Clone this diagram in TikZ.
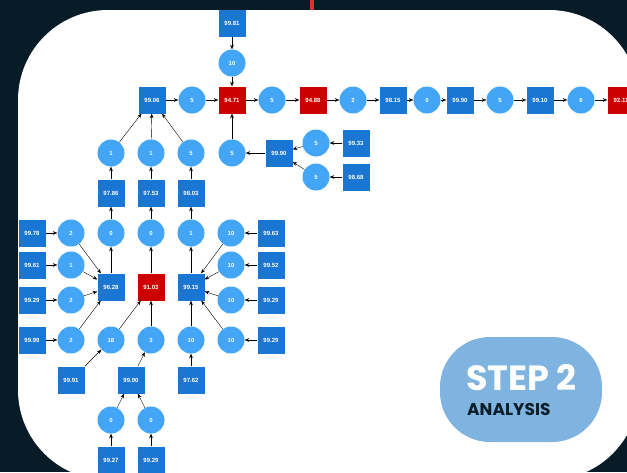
\documentclass[tikz,border=0pt]{standalone}
\usepackage{fontspec}
\usetikzlibrary{arrows.meta,positioning}
\newfontfamily\boxfont{Liberation Sans}
\newfontfamily\stepfont{Poppins}
\definecolor{bgdark}{HTML}{071C26}
\definecolor{sqblue}{HTML}{1976D2}
\definecolor{dotblue}{HTML}{42A5F5}
\definecolor{sqred}{HTML}{CC0000}
\definecolor{barred}{HTML}{D9342B}
\definecolor{pillblue}{HTML}{7FB3E0}
\definecolor{navy}{HTML}{0B1F2A}
\tikzset{
    -{Stealth[length=4.5pt,width=3.6pt]},line width=0.7pt,
    sq/.style ={rectangle, fill=sqblue, minimum size=27pt, inner sep=0pt, text=white,
                font=\boxfont\bfseries\fontsize{6}{6}\selectfont},
    worst/.style ={sq, fill=sqred},
    dot/.style ={circle, fill=dotblue, minimum size=27pt, inner sep=0pt, text=white,
                font=\boxfont\bfseries\fontsize{6}{6}\selectfont}
}
\begin{document}
\begin{tikzpicture}[x=1pt,y=-1pt]
    \useasboundingbox (0,0) rectangle (627,472);
    \fill[bgdark] (0,0) rectangle (627,472);
    \fill[barred] (310,0) rectangle (314,10);
    \fill[white, rounded corners=90pt] (18,10) rectangle (639,480);

    % main line
    \node[sq] (t1) at (232,23) {99.81};
    \node[dot] (t2) at (232,63) {10};
    \node[sq] (a1) at (152,100) {99.06};
    \node[dot] (a2) at (192,100) {5};
    \node[worst] (a3) at (232,100) {94.71};
    \node[dot] (a4) at (272,100) {5};
    \node[worst] (a5) at (313,100) {94.88};
    \node[dot] (a6) at (353,100) {2};
    \node[sq] (a7) at (393,100) {98.15};
    \node[dot] (a8) at (427,100) {0};
    \node[sq] (a9) at (460,100) {99.90};
    \node[dot] (a10) at (500,100) {5};
    \node[sq] (a11) at (540,100) {99.10};
    \node[dot] (a12) at (581,100) {6};
    \node[worst] (a13) at (621,100) {92.11};

    \node[dot] (b1) at (111,153) {1};
    \node[dot] (b2) at (151,153) {1};
    \node[dot] (b3) at (191,153) {5};
    \node[dot] (b4) at (232,153) {5};
    \node[sq] (b5) at (279,153) {99.90};
    \node[dot] (b6) at (316,143) {5};
    \node[dot] (b7) at (316,177) {5};
    \node[sq] (b8) at (356,143) {99.33};
    \node[sq] (b9) at (356,177) {98.68};

    \node[sq] (d1) at (111,193) {97.86};
    \node[sq] (d2) at (151,193) {97.53};
    \node[sq] (d3) at (191,193) {98.03};

    \node[sq] (e1) at (32,233) {99.78};
    \node[dot] (e2) at (71,233) {2};
    \node[dot] (e3) at (111,233) {0};
    \node[dot] (e4) at (151,233) {0};
    \node[dot] (e5) at (191,233) {1};
    \node[dot] (e6) at (231,233) {10};
    \node[sq] (e7) at (271,233) {99.63};

    \node[sq] (f1) at (32,265) {99.61};
    \node[dot] (f2) at (71,265) {1};
    \node[dot] (f3) at (231,265) {10};
    \node[sq] (f4) at (271,265) {99.52};

    \node[sq] (g1) at (111,287) {96.28};
    \node[worst] (g2) at (151,287) {91.03};
    \node[sq] (g3) at (191,287) {99.15};

    \node[sq] (h1) at (32,300) {99.29};
    \node[dot] (h2) at (71,300) {2};
    \node[dot] (h3) at (231,300) {10};
    \node[sq] (h4) at (271,300) {99.29};

    \node[sq] (i1) at (32,340) {99.99};
    \node[dot] (i2) at (71,340) {2};
    \node[dot] (i3) at (111,340) {18};
    \node[dot] (i4) at (151,340) {3};
    \node[dot] (i5) at (191,340) {10};
    \node[dot] (i6) at (231,340) {10};
    \node[sq] (i7) at (271,340) {99.29};

    \node[sq] (j1) at (71,380) {99.91};
    \node[sq] (j2) at (131,380) {99.90};
    \node[sq] (j3) at (191,380) {97.62};
    \node[dot] (k1) at (111,420) {0};
    \node[dot] (k2) at (151,420) {0};
    \node[sq] (l1) at (111,460) {99.27};
    \node[sq] (l2) at (151,460) {99.29};

    \path (t1) edge (t2) (t2) edge (a3);
    \path (a1) edge (a2) (a2) edge (a3) (a3) edge (a4) (a4) edge (a5) (a5) edge (a6)
          (a6) edge (a7) (a7) edge (a8) (a8) edge (a9) (a9) edge (a10) (a10) edge (a11)
          (a11) edge (a12) (a12) edge (a13);
    \path (b4) edge (a3) (b5) edge (b4) (b6) edge (b5) (b7) edge (b5) (b8) edge (b6) (b9) edge (b7);
    \path (b1) edge (a1) (b2) edge (a1) (b3) edge (a1);
    \path (d1) edge (b1) (d2) edge (b2) (d3) edge (b3);
    \path (e3) edge (d1) (e4) edge (d2) (e5) edge (d3);
    \path (g1) edge (e3) (g2) edge (e4) (g3) edge (e5);
    \path (e1) edge (e2) (e2) edge (g1) (f1) edge (f2) (f2) edge (g1)
          (h1) edge (h2) (h2) edge (g1) (i1) edge (i2) (i2) edge (g1);
    \path (j1) edge (i3) (i3) edge (g2) (j2) edge (i4) (i4) edge (g2);
    \path (k1) edge (j2) (k2) edge (j2) (l1) edge (k1) (l2) edge (k2);
    \path (j3) edge (i5) (i5) edge (g3) (i6) edge (g3) (i7) edge (i6);
    \path (e7) edge (e6) (e6) edge (g3) (f4) edge (f3) (f3) edge (g3) (h4) edge (h3) (h3) edge (g3);

    % badge
    \fill[pillblue, rounded corners=50pt] (440,337) rectangle (602,442);
    \node[anchor=base west, inner sep=0pt, text=white,
          font=\stepfont\bfseries\fontsize{35}{35}\selectfont] (step) at (466,390) {STEP 2};
    \node[anchor=base west, inner sep=0pt, text=navy,
          font=\stepfont\bfseries\fontsize{17}{17}\selectfont] (phase) at (467,415) {ANALYSIS};
\end{tikzpicture}
\end{document}
